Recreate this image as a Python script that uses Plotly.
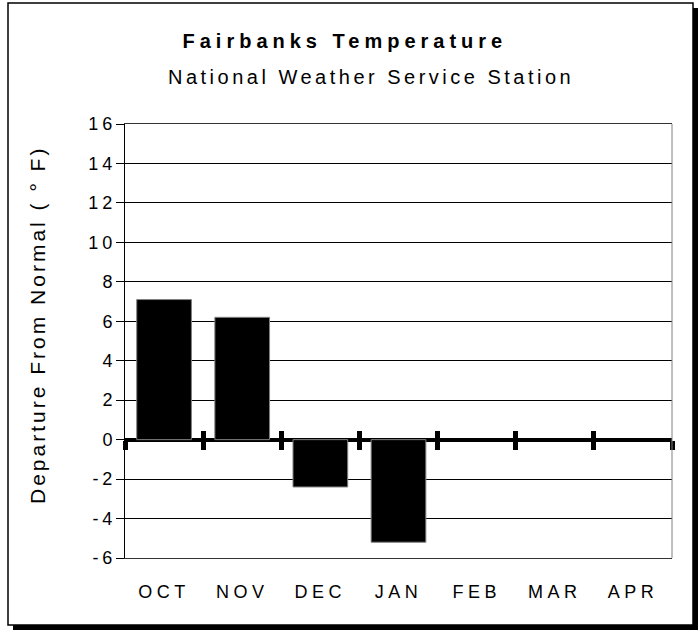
import plotly.graph_objects as go

# data
months = ["OCT", "NOV", "DEC", "JAN", "FEB", "MAR", "APR"]
departure = [7.1, 6.2, -2.4, -5.2, None, None, None]
y_ticks = list(range(-6, 17, 2))
title_text = "Fairbanks Temperature"
subtitle_text = "National Weather Service Station"
y_title = "Departure From Normal ( \u00b0 F)"

W, H = 698, 630
# plot area in pixels
L, R, T, B = 125, 672, 124, 558


def px(x):
    return (x - L) / (R - L)


def py(y):
    return (B - y) / (B - T)


FONT = "Liberation Sans, Arial, sans-serif"
ymin, ymax = y_ticks[0], y_ticks[-1]
bounds = [i - 0.5 for i in range(len(months) + 1)]

fig = go.Figure()
fig.add_trace(go.Bar(
    x=months, y=departure,
    marker=dict(color="black", line=dict(color="#808080", width=1)),
    width=0.7, hoverinfo="skip", showlegend=False,
))
# empty traces so the zero-line tick axes get drawn
for ax in ["x2", "x3"]:
    fig.add_trace(go.Scatter(x=[], y=[], xaxis=ax, showlegend=False, hoverinfo="skip"))

zero_pos = (0 - ymin) / (ymax - ymin)
tick_axis = dict(
    overlaying="x", anchor="free", position=zero_pos, range=[-0.5, len(months) - 0.5],
    tickmode="array", tickvals=bounds, showticklabels=False, showgrid=False,
    showline=False, zeroline=False, ticklen=9, tickwidth=5, tickcolor="black",
)

fig.update_layout(
    width=W, height=H,
    margin=dict(l=L, r=W - R, t=T, b=H - B, pad=0),
    paper_bgcolor="white", plot_bgcolor="white",
    font=dict(family=FONT, size=18, color="black"),
    bargap=0.3,
    xaxis=dict(
        type="category", categoryorder="array", categoryarray=months,
        range=[-0.5, len(months) - 0.5],
        showline=True, mirror=True, linecolor="#333333", linewidth=1,
        showgrid=False, zeroline=False, ticks="",
        ticklabelstandoff=17, tickfont=dict(size=18),
    ),
    xaxis2=dict(tick_axis, ticks="outside"),
    xaxis3=dict(tick_axis, ticks="inside"),
    yaxis=dict(
        range=[ymin, ymax], tickmode="array", tickvals=y_ticks,
        ticktext=[str(v) for v in y_ticks],
        showline=True, linecolor="black", linewidth=1,
        showgrid=True, gridcolor="black", gridwidth=1,
        zeroline=True, zerolinecolor="black", zerolinewidth=4,
        ticks="outside", ticklen=8, tickcolor="black", tickwidth=1,
        tickfont=dict(size=18),
    ),
    shapes=[
        # drop shadow of the chart frame
        dict(type="rect", xref="paper", yref="paper", layer="below",
             x0=px(13), x1=px(698), y0=py(630), y1=py(8),
             fillcolor="black", line=dict(width=0)),
        dict(type="rect", xref="paper", yref="paper", layer="below",
             x0=px(8), x1=px(693), y0=py(625), y1=py(3),
             fillcolor="white", line=dict(color="black", width=1.5)),
        # right edge of plot area
        dict(type="line", xref="paper", yref="paper", x0=1, x1=1, y0=0, y1=1,
             line=dict(color="#808080", width=1)),
    ],
    annotations=[
        dict(text="<b>" + title_text + "</b>", xref="paper", yref="paper",
             x=px(345), y=py(41), xanchor="center", yanchor="middle",
             showarrow=False, font=dict(size=20)),
        dict(text=subtitle_text, xref="paper", yref="paper",
             x=px(371), y=py(77), xanchor="center", yanchor="middle",
             showarrow=False, font=dict(size=20)),
        dict(text=y_title, xref="paper", yref="paper", textangle=-90,
             x=px(37), y=py(325), xanchor="center", yanchor="middle",
             showarrow=False, font=dict(size=21)),
    ],
)

# the original chart uses widely spaced lettering
post = """
document.body.style.margin = '0';
var gd = document.getElementById('{plot_id}');
function sp(sel, v, dx) {
  gd.querySelectorAll(sel).forEach(function (t) {
    t.style.letterSpacing = v;
    if (dx) { t.setAttribute('dx', dx); }
  });
}
sp('g.annotation[data-index="0"] text', '5px');
sp('g.annotation[data-index="1"] text', '3.5px');
sp('g.annotation[data-index="2"] text', '3px');
sp('.xtick text', '4.5px');
sp('.ytick text', '4px', '4');
"""

fig.write_html("out.html", post_script=post, config={"displayModeBar": False})
